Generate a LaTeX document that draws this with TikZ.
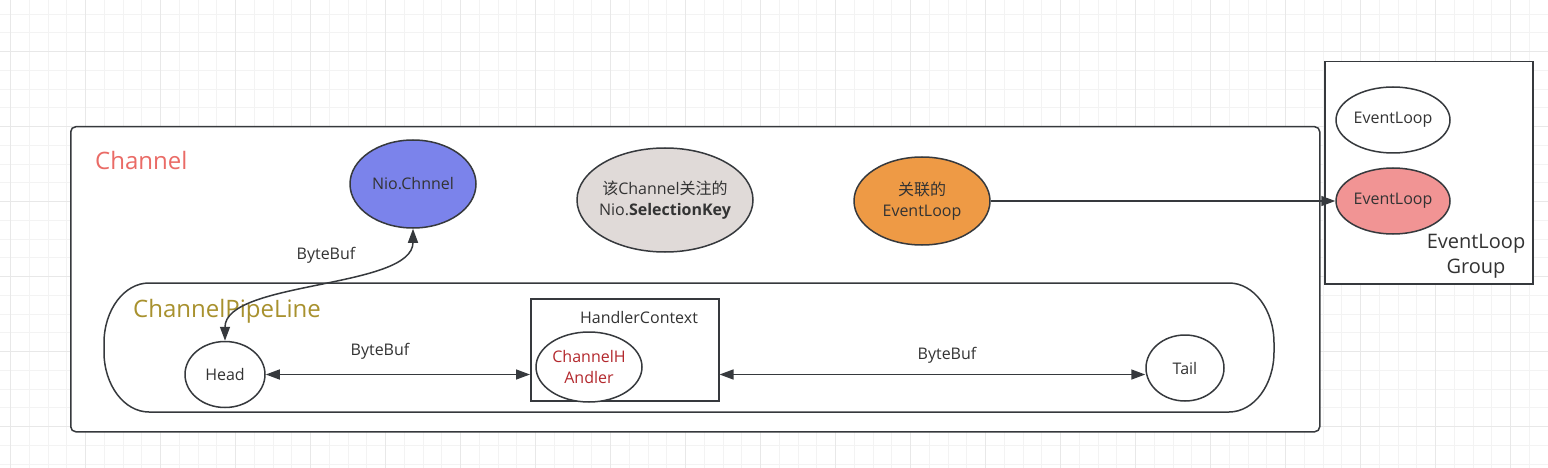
\documentclass[tikz,border=0pt]{standalone}
\usepackage{fontspec}
\setmainfont{Open Sans}
\newfontfamily\cjk{Noto Sans CJK SC}
\usetikzlibrary{arrows.meta,shapes.geometric}
\definecolor{linec}{HTML}{36393D}
\definecolor{txt}{HTML}{333333}
\definecolor{gridminor}{HTML}{F3F3F3}
\definecolor{gridmajor}{HTML}{E8E8E8}
\definecolor{chred}{HTML}{EA6B66}
\definecolor{pipegold}{HTML}{A8912E}
\definecolor{nioblue}{HTML}{7B83EB}
\definecolor{keygray}{HTML}{E0DAD8}
\definecolor{orangec}{HTML}{EE9A45}
\definecolor{redloop}{HTML}{F19494}
\definecolor{handred}{HTML}{B3282D}
\tikzset{
  shapeline/.style={draw=linec, line width=1.5pt},
  ell/.style={shapeline, ellipse, inner sep=0pt, align=center, text=txt, font=\fontsize{16}{21}\selectfont},
  boxnode/.style={shapeline, rectangle, fill=white, inner sep=0pt, anchor=north west},
  lbl/.style={text=txt, font=\fontsize{16}{21}\selectfont, inner sep=0pt},
  biglbl/.style={font=\fontsize{24}{28}\selectfont, inner sep=0pt, anchor=west},
  arr/.style={draw=linec, line width=1.5pt, -{Triangle[length=14pt,width=10pt]}},
  dbl/.style={draw=linec, line width=1.5pt, {Triangle[length=14pt,width=10pt]}-{Triangle[length=14pt,width=10pt]}}
}
\begin{document}
\begin{tikzpicture}[x=1pt,y=-1pt]
\useasboundingbox (0,0) rectangle (1548,468);
\fill[white] (0,0) rectangle (1548,468);
% grid
\foreach \i in {0,...,82} { \draw[gridminor, line width=1pt] ({10.7+18.75*\i},0) -- ++(0,468); }
\foreach \i in {0,...,24} { \draw[gridminor, line width=1pt] (0,{14.2+18.75*\i}) -- ++(1548,0); }
\foreach \i in {0,...,20} { \draw[gridmajor, line width=1pt] ({10.7+75*\i},0) -- ++(0,468); }
\foreach \i in {0,...,5} { \draw[gridmajor, line width=1pt] (0,{51.7+75*\i}) -- ++(1548,0); }

% Channel container
\node[boxnode, rounded corners=5pt, minimum width=1249pt, minimum height=305pt] (channel) at (70,126) {};
\node[biglbl, text=chred] (chlabel) at (95,160) {Channel};

% top ellipses
\node[ell, fill=nioblue, minimum width=126pt, minimum height=88pt] (nio) at (413,184) {Nio.Chnnel};
\node[ell, fill=keygray, inner xsep=-14pt, inner ysep=-4pt, minimum width=176pt, minimum height=104pt] (key) at (665,200) {{\cjk 该}Channel{\cjk 关注的}\\Nio.\textbf{SelectionKey}};
\node[ell, fill=orangec, minimum width=136pt, minimum height=88pt] (assoc) at (922,201) {{\cjk 关联的}\\EventLoop};

% EventLoopGroup
\node[boxnode, minimum width=208pt, minimum height=222pt] (group) at (1324,61) {};
\node[ell, fill=white, minimum width=114pt, minimum height=66pt] (loopa) at (1393,120) {EventLoop};
\node[ell, fill=redloop, minimum width=114pt, minimum height=66pt] (loopb) at (1393,201) {EventLoop};
\node[text=txt, font=\fontsize{20}{25}\selectfont, align=center, inner sep=0pt] (grouplbl) at (1476,256) {EventLoop\\Group};

% pipeline (elliptical corners)
\draw[shapeline, fill=white] (149,283) -- (1229,283)
  .. controls (1253.8,283) and (1274,309.9) .. (1274,343) -- (1274,352)
  .. controls (1274,385.1) and (1253.8,412) .. (1229,412) -- (149,412)
  .. controls (124.2,412) and (104,385.1) .. (104,352) -- (104,343)
  .. controls (104,309.9) and (124.2,283) .. cycle;
\node[biglbl, text=pipegold] (pipelbl) at (133,311) {ChannelPipeLine};

\node[ell, fill=white, minimum width=80pt, minimum height=66pt] (head) at (225,374.5) {Head};
\node[boxnode, minimum width=188pt, minimum height=102pt] (hctx) at (530,298) {};
\node[lbl] (hctxlbl) at (639,317) {HandlerContext};
\node[ell, fill=white, text=handred, minimum width=106pt, minimum height=70pt] (handler) at (589,367) {ChannelH\\Andler};
\node[ell, fill=white, minimum width=78pt, minimum height=66pt] (tail) at (1185,368) {Tail};

% connectors
\draw[arr] (assoc.east) -- (loopb.west);
\draw[dbl] (nio.south) .. controls ([yshift=-60pt]nio.south) and ([yshift=60pt]head.north) .. (head.north);
\node[lbl] (bb1) at (326,255) {ByteBuf};
\draw[dbl] (head.east) -- (head.east -| hctx.west);
\node[lbl] (bb2) at (380,351) {ByteBuf};
\draw[dbl] (head.east -| hctx.east) -- (head.east -| tail.west);
\node[lbl] (bb3) at (947,355) {ByteBuf};
\end{tikzpicture}
\end{document}
